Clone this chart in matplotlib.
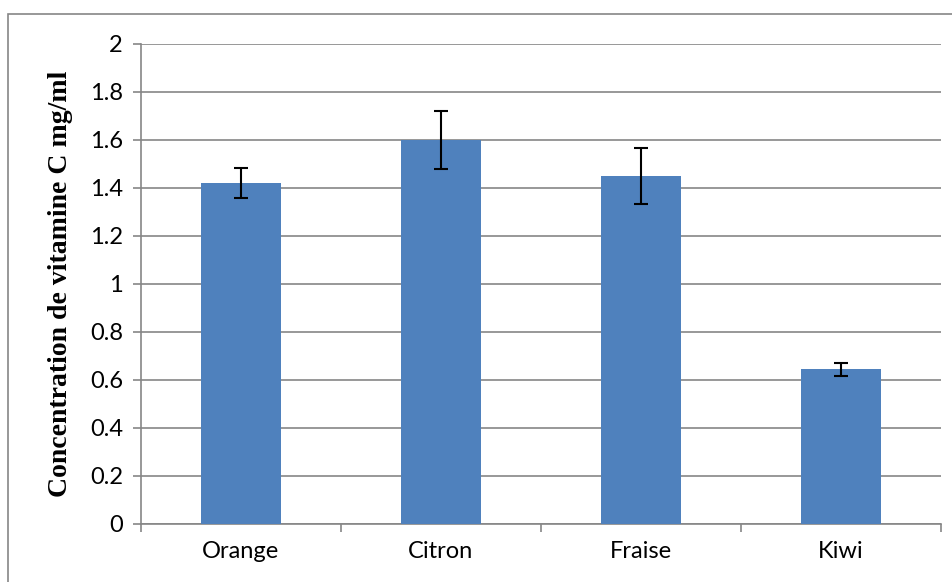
import numpy as np
import matplotlib.pyplot as plt
from matplotlib.patches import Rectangle

# Données
fruits = ['Orange', 'Citron', 'Fraise', 'Kiwi']
concentration = [1.42, 1.60, 1.45, 0.644]
erreur = [0.063, 0.12, 0.115, 0.028]
y_ticks = [0, 0.2, 0.4, 0.6, 0.8, 1, 1.2, 1.4, 1.6, 1.8, 2]
y_labels = ['0', '0.2', '0.4', '0.6', '0.8', '1', '1.2', '1.4', '1.6', '1.8', '2']

grey = '#868686'

fig = plt.figure(figsize=(9.53, 5.82), dpi=100)
ax = fig.add_axes([141/953, 1 - 524/582, 800/953, 480/582])

x = np.arange(len(fruits))
ax.bar(x, concentration, width=0.4, color='#4F81BD', zorder=3,
       yerr=erreur, error_kw=dict(ecolor='black', elinewidth=1.5, capsize=5, capthick=1.5))

ax.set_xlim(-0.5, len(fruits) - 0.5)
ax.set_ylim(0, 2)
ax.set_yticks(y_ticks)
ax.set_yticklabels(y_labels, fontfamily='Lato', fontsize=17)
ax.set_xticks(x)
ax.set_xticklabels(fruits, fontfamily='Lato', fontsize=17)
ax.tick_params(axis='x', length=0, pad=12)
ax.set_xticks(np.arange(len(fruits) + 1) - 0.5, minor=True)
ax.tick_params(axis='x', which='minor', length=6, color=grey, width=1.2)
ax.tick_params(axis='y', length=6, color=grey, width=1.2, pad=7)

ax.grid(axis='y', color=grey, linewidth=1.2, zorder=0)
for s in ['top', 'right']:
    ax.spines[s].set_visible(False)
for s in ['left', 'bottom']:
    ax.spines[s].set_color(grey)
    ax.spines[s].set_linewidth(1.2)

ax.set_ylabel('Concentration de vitamine C mg/ml', fontfamily='Liberation Serif',
              fontweight='bold', fontsize=20, va='center')
ax.yaxis.set_label_coords(-0.1, 0.5)

# Cadre du graphique
fig.patches.append(Rectangle((8/953, -0.05), 1.05, 1 - 14/582 + 0.05, transform=fig.transFigure,
                             fill=False, edgecolor=grey, linewidth=1.2, clip_on=False))

fig.savefig('out.png', dpi=100)
